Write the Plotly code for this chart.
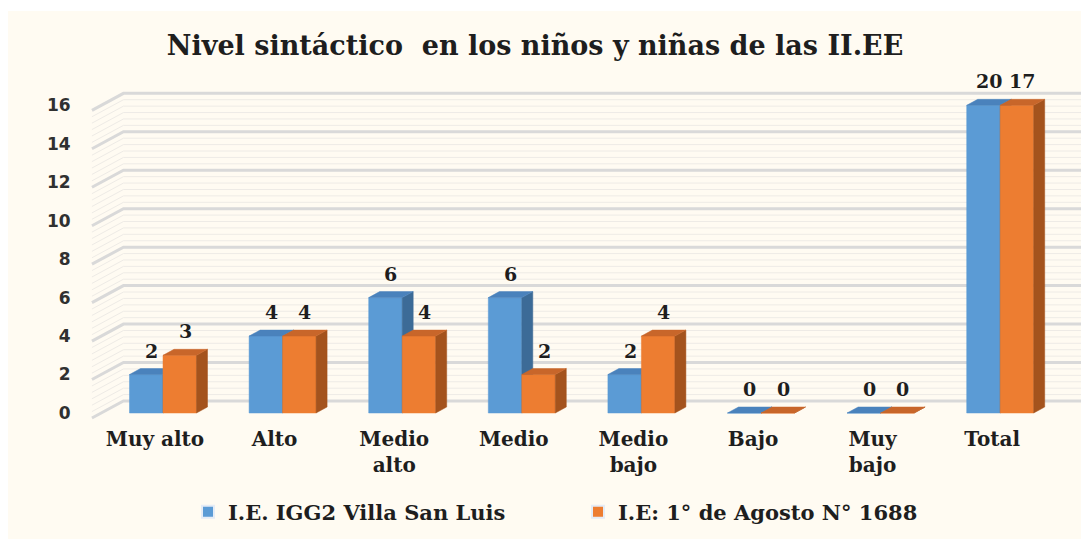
import numpy as np
import plotly.graph_objects as go

# ---------------- data ----------------
categories = ["Muy alto", "Alto", "Medio<br>alto", "Medio", "Medio<br>bajo", "Bajo", "Muy<br>bajo", "Total"]
series_names = ["I.E. IGG2 Villa San Luis", "I.E: 1° de Agosto N° 1688"]
values_villa = [2, 4, 6, 6, 2, 0, 0, 20]
values_agosto = [3, 4, 4, 2, 4, 0, 0, 17]
y_ticks = [0, 2, 4, 6, 8, 10, 12, 14, 16]
AXIS_MAX = 16

# ---------------- styling ----------------
FRONT = ["#5B9BD5", "#ED7D31"]
SIDE = ["#3C6B97", "#A4531D"]
TOP = ["#4A82BC", "#C8662A"]
GRID = "#D9D9D9"
FAINT = "#EEEBE6"
TXT = "#1E1E1E"
SERIF = "DejaVu Serif"
SANS = "DejaVu Sans"

OFF = 8                         # page body margin
W, H = 1089, 539                # figure overflows viewport edge by OFF
PX_X, PX_Y = 119.6, 19.23        # pixels per category / per unit
X0, Y0 = 163 - OFF, 413 - OFF    # pixel of first category centre / value 0
ML, MT = 89 - OFF, 70 - OFF
PLOT_R, PLOT_B = 1084 - OFF, 425 - OFF
MR, MB = W - PLOT_R, H - PLOT_B
PW, PH = W - ML - MR, H - MT - MB
x_range = [-(X0 - ML) / PX_X, (PLOT_R - X0) / PX_X]
y_range = [-(PLOT_B - Y0) / PX_Y, (Y0 - MT) / PX_Y]

BW = 0.28                         # bar width (category units)
DX, DY = 11 / PX_X, 6 / PX_Y      # bar depth offsets
WX_B, WY_B = 22 / PX_X, 12 / PX_Y   # back wall offset from bar plane
WX_F, WY_F = -9.5 / PX_X, -5 / PX_Y  # front edge of wall
WALL_L = -0.594
WALL_R = 7.676

fig = go.Figure()

# back wall gridlines (major + faint texture)
def wall_line(v, color, width):
    xs = [WALL_L, WALL_L + (WX_B - WX_F), WALL_R]
    ys = [v + WY_F, v + WY_B, v + WY_B]
    fig.add_trace(go.Scatter(x=xs, y=ys, mode="lines", line=dict(color=color, width=width),
                             hoverinfo="skip", showlegend=False, cliponaxis=False))

for v in np.arange(0, AXIS_MAX, 1 / 3):
    if abs(v - round(v / 2) * 2) > 1e-6:
        wall_line(v, FAINT, 1)
for v in y_ticks:
    wall_line(v, GRID, 3)

# 3D bars built from the data arrays
def bar_faces(values, k):
    fx, fy, sx, sy, tx, ty = [], [], [], [], [], []
    for i, val in enumerate(values):
        h = min(val, AXIS_MAX)
        xl = i - BW if k == 0 else i
        xr = xl + BW
        fx += [xl, xr, xr, xl, xl, None]
        fy += [0, 0, h, h, 0, None]
        sx += [xr, xr + DX, xr + DX, xr, xr, None]
        sy += [0, DY, h + DY, h, 0, None]
        tx += [xl, xl + DX, xr + DX, xr, xl, None]
        ty += [h, h + DY, h + DY, h, h, None]
    return (fx, fy), (sx, sy), (tx, ty)

for k, vals in enumerate([values_villa, values_agosto]):
    front, side, top = bar_faces(vals, k)
    for (xs, ys), col in [(front, FRONT[k]), (side, SIDE[k]), (top, TOP[k])]:
        fig.add_trace(go.Scatter(x=xs, y=ys, mode="lines", fill="toself", fillcolor=col,
                                 line=dict(color=col, width=0.5), hoverinfo="skip",
                                 showlegend=False))

# legend entries
for k, name in enumerate(series_names):
    fig.add_trace(go.Bar(x=[None], y=[None], name=name, marker_color=FRONT[k]))

# data labels
for k, vals in enumerate([values_villa, values_agosto]):
    for i, val in enumerate(vals):
        h = min(val, AXIS_MAX)
        cx = (i - BW / 2 if k == 0 else i + BW / 2) + DX / 2
        fig.add_annotation(x=cx, y=h, text=str(val), showarrow=False, yanchor="bottom",
                           yshift=11, font=dict(family=SERIF, size=19, color=TXT, weight="bold"))

idx = np.arange(len(categories))
fig.update_layout(
    width=W, height=H,
    margin=dict(l=ML, r=MR, t=MT, b=MB, autoexpand=False),
    paper_bgcolor="#FFFBF2",
    plot_bgcolor="rgba(0,0,0,0)",
    title=dict(text="Nivel sintáctico  en los niños y niñas de las II.EE",
               x=(535 - OFF) / W, xanchor="center", y=1 - (46 - OFF) / H, yanchor="middle",
               font=dict(family=SERIF, size=27, color=TXT, weight="bold")),
    xaxis=dict(range=x_range, tickvals=idx - 8 / PX_X, ticktext=categories,
               showgrid=False, zeroline=False, showline=False,
               ticks="", tickfont=dict(family=SERIF, size=20, color=TXT, weight="bold"),
               fixedrange=True),
    yaxis=dict(range=y_range, tickvals=y_ticks, showgrid=False, zeroline=False, showline=False,
               ticks="outside", ticklen=14, tickcolor="rgba(0,0,0,0)",
               tickfont=dict(family=SANS, size=17, color="#303030", weight="bold"),
               fixedrange=True),
    legend=dict(orientation="h", x=(208 - OFF - 20 - ML) / PW, xanchor="left",
                y=(PLOT_B - (512 - OFF)) / PH, yanchor="middle",
                entrywidthmode="pixels", entrywidth=345,
                font=dict(family=SERIF, size=21, color=TXT, weight="bold"),
                bgcolor="rgba(0,0,0,0)", itemsizing="constant"),
    showlegend=True,
)

# thin white strip at the top edge of the picture
fig.add_shape(type="rect", xref="paper", yref="paper", layer="below",
              x0=-ML / PW - 0.05, x1=1.1, y0=(PLOT_B - (11 - OFF)) / PH, y1=1.3,
              fillcolor="white", line_width=0)

fig.write_html("out.html")
